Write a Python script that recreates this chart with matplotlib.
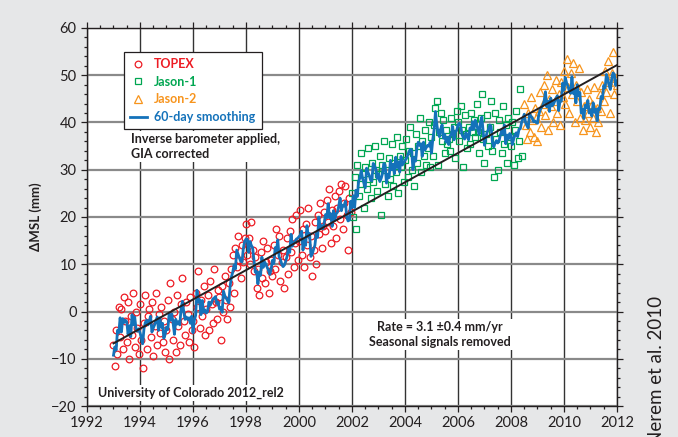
import numpy as np
import matplotlib
matplotlib.use("Agg")
import matplotlib.pyplot as plt
from matplotlib.ticker import MultipleLocator

plt.rcParams["font.family"] = ["Lato", "DejaVu Sans"]

BG = "#e6e7e8"
INK = "#231f20"
RED = "#ed1c24"
GREEN = "#00a651"
ORANGE = "#f7941d"
BLUE = "#1472ba"

# one altimeter value every CYCLE_STEP years, per mission
CYCLE_STEP = 0.05

topex_start = 1993.0
topex_mm = [
    # 1993
    -7.0, -11.5, -4.0, -9.0, 1.0, -5.5, 0.5, -8.0, 3.0, -2.0,
    -6.5, 2.0, -10.0, -1.0, -5.0, 4.0, -7.5, 0.0, -3.5, -9.0,
    # 1994
    1.5, -6.0, -12.0, -2.5, 3.5, -8.0, -1.0, 0.5, -5.5, 2.0,
    -9.5, -3.0, 4.0, -7.0, -0.5, -4.5, 1.0, -6.5, -2.0, -8.5,
    # 1995
    -4.0, 2.5, -10.0, 6.0, -1.5, -6.0, 0.0, -8.5, 3.5, -3.0,
    -7.0, 1.5, 7.0, -2.0, -5.0, 2.0, -0.5, -6.5, 3.0, -4.0,
    # 1996
    -2.0, -7.5, 4.0, 1.0, 8.5, -3.5, 2.5, -1.0, 5.5, -5.0,
    0.5, 3.5, -4.0, 6.5, 1.5, -2.5, 9.0, 2.0, -1.5, 4.5,
    # 1997
    3.0, -6.0, 5.5, 0.0, 7.5, 2.5, -1.5, 6.0, 1.0, 9.0,
    12.0, 4.0, 13.5, 9.5, 16.0, 11.0, 7.0, 14.0, 10.5, 15.5,
    # 1998
    18.5, 12.0, 15.5, 10.0, 19.0, 13.0, 8.5, 11.5, 5.0, 9.0,
    3.5, 12.5, 7.0, 15.0, 6.0, 10.5, 13.5, 4.0, 8.5, 11.0,
    # 1999
    7.5, 14.0, 9.0, 17.5, 12.0, 16.0, 6.5, 10.5, 13.0, 5.0,
    11.5, 15.5, 8.0, 17.0, 12.5, 19.5, 9.5, 14.5, 20.5, 11.0,
    # 2000
    15.0, 21.5, 12.0, 17.5, 9.5, 18.5, 14.0, 22.0, 11.5, 16.0,
    7.5, 13.0, 19.0, 10.0, 20.5, 16.5, 23.0, 13.5, 18.0, 21.0,
    # 2001
    17.0, 23.5, 19.0, 26.0, 14.5, 21.5, 18.0, 24.5, 15.5, 22.0,
    25.5, 19.5, 27.0, 17.5, 23.0, 26.5, 20.5, 13.0, 24.0, 21.0,
]

jason1_start = 2002.0
jason1_mm = [
    # 2002
    25.0, 20.0, 28.5, 17.5, 31.0, 24.5, 27.0, 33.5, 29.0, 22.0,
    30.5, 26.0, 34.5, 28.0, 24.0, 31.5, 27.5, 35.0, 30.0, 25.5,
    # 2003
    29.0, 33.0, 20.5, 31.0, 36.0, 27.0, 30.0, 24.5, 32.5, 28.0,
    35.5, 26.5, 31.5, 29.5, 37.0, 25.0, 33.0, 30.5, 35.0, 27.5,
    # 2004
    32.0, 36.5, 28.5, 34.0, 39.0, 30.0, 33.5, 26.5, 37.5, 31.5,
    35.0, 41.0, 29.5, 36.0, 33.0, 38.5, 31.0, 34.5, 40.0, 30.5,
    # 2005
    37.0, 33.0, 39.5, 43.0, 44.5, 31.0, 38.0, 42.0, 36.0, 40.5,
    33.5, 38.5, 35.5, 36.5, 34.0, 41.0, 37.5, 39.0, 32.5, 42.5,
    # 2006
    40.0, 36.0, 43.5, 38.5, 30.5, 41.5, 37.5, 34.5, 39.0, 35.5,
    42.0, 38.0, 40.5, 37.0, 44.0, 38.0, 33.5, 41.0, 46.0, 36.5,
    # 2007
    31.5, 37.5, 41.5, 35.0, 39.0, 44.5, 34.0, 28.5, 42.0, 36.5,
    30.0, 40.5, 38.0, 33.5, 43.5, 35.5, 39.5, 31.5, 41.0, 37.0,
    # 2008
    35.0, 40.0, 31.0, 38.5, 42.5, 32.5, 36.0, 47.0, 33.0,
]

jason2_start = 2008.5
jason2_mm = [
    # 2008.5
    44.0, 39.5, 36.5, 42.0, 38.0, 45.5, 40.5, 37.0, 43.0, 41.0,
    # 2009
    36.0, 42.5, 46.5, 39.0, 44.0, 48.0, 41.5, 50.0, 38.5, 45.0,
    43.5, 47.0, 40.0, 44.5, 49.0, 42.0, 46.0, 39.5, 48.5, 45.5,
    # 2010
    51.0, 44.0, 53.5, 47.5, 42.0, 50.5, 46.0, 52.5, 40.0, 48.0,
    44.5, 51.5, 41.0, 46.5, 38.5, 43.5, 40.5, 47.0, 42.0, 45.0,
    # 2011
    39.0, 44.0, 41.0, 47.5, 38.0, 43.0, 40.0, 46.0, 42.5, 48.0,
    44.5, 51.0, 46.5, 53.0, 48.5, 42.0, 50.5, 55.0, 46.0, 49.5,
    # 2012
    48.0,
]

RATE = 3.1
RATE_ERR = 0.4
TREND_ANCHOR = (2002.5, 22.7)
TREND_SPAN = (1993.0, 2012.0)


def cycle_times(start, values):
    return start + CYCLE_STEP * np.arange(len(values))


def smooth_60day(t, v, half=30 / 365.25):
    return np.array([v[np.abs(t - ti) <= half].mean() for ti in t])


t1 = cycle_times(topex_start, topex_mm)
t2 = cycle_times(jason1_start, jason1_mm)
t3 = cycle_times(jason2_start, jason2_mm)

t_all = np.concatenate([t1, t2, t3])
v_all = np.concatenate([topex_mm, jason1_mm, jason2_mm]).astype(float)
order = np.argsort(t_all)
t_all, v_all = t_all[order], v_all[order]
smooth = smooth_60day(t_all, v_all)

trend_t = np.array(TREND_SPAN)
trend_v = TREND_ANCHOR[1] + RATE * (trend_t - TREND_ANCHOR[0])

fig = plt.figure(figsize=(6.78, 4.37), dpi=100)
fig.patch.set_facecolor(BG)
ax = fig.add_axes([87 / 678, 31 / 437, 530 / 678, 378 / 437])
ax.set_facecolor("white")

h1, = ax.plot(t1, topex_mm, "o", mfc="none", mec=RED, ms=4.8, mew=0.9, label="TOPEX")
h2, = ax.plot(t2, jason1_mm, "s", mfc="none", mec=GREEN, ms=4.4, mew=0.9, label="Jason-1")
h3, = ax.plot(t3, jason2_mm, "^", mfc="none", mec=ORANGE, ms=5.2, mew=0.9, label="Jason-2")
h4, = ax.plot(t_all, smooth, color=BLUE, lw=2.0, label="60-day smoothing")
ax.plot(trend_t, trend_v, color=INK, lw=1.4)

ax.set_xlim(1992, 2012)
ax.set_ylim(-20, 60)
ax.xaxis.set_major_locator(MultipleLocator(2))
ax.xaxis.set_minor_locator(MultipleLocator(0.5))
ax.yaxis.set_major_locator(MultipleLocator(10))
ax.yaxis.set_minor_locator(MultipleLocator(2))
ax.set_xticklabels([f"{int(x)}" for x in ax.get_xticks()])
ax.tick_params(which="both", direction="out", top=True, right=True,
               colors=INK, labelsize=10.5, width=0.9)
ax.tick_params(which="major", length=4)
ax.tick_params(which="minor", length=2.5)
for s in ax.spines.values():
    s.set_color(INK)
    s.set_linewidth(1.0)

ax.set_axisbelow(True)
ax.xaxis.grid(True, color="#333333", lw=1.0)
ax.yaxis.grid(True, color="#8a8a8a", lw=1.6)

ax.set_ylabel("ΔMSL (mm)", fontweight="bold", fontsize=9.5, color=INK)
ax.yaxis.set_label_coords(-0.085, 0.5)

leg = ax.legend(handles=[h1, h2, h3, h4], loc="upper left",
                bbox_to_anchor=(0.07, 0.937), borderaxespad=0,
                fancybox=False, framealpha=1, edgecolor=INK,
                prop={"weight": "bold", "size": 9}, handlelength=1.3,
                handletextpad=0.6, labelspacing=0.45, borderpad=0.5)
leg.get_frame().set_linewidth(0.9)
for txt, c in zip(leg.get_texts(), [RED, GREEN, ORANGE, BLUE]):
    txt.set_color(c)

box = dict(facecolor="white", edgecolor="none", pad=1.5)
ax.text(0.083, 0.722, "Inverse barometer applied,\nGIA corrected",
        transform=ax.transAxes, ha="left", va="top", fontsize=9,
        fontweight="bold", color=INK, linespacing=1.3, bbox=box)
ax.text(0.666, 0.19, f"Rate = {RATE} ±{RATE_ERR} mm/yr\nSeasonal signals removed",
        transform=ax.transAxes, ha="center", va="center", fontsize=9,
        fontweight="bold", color=INK, linespacing=1.3, bbox=box)
ax.text(0.021, 0.034, "University of Colorado 2012_rel2",
        transform=ax.transAxes, ha="left", va="center", fontsize=9,
        fontweight="bold", color=INK, bbox=box)

# source credit along the right edge, running down to the bottom
fig.text(657 / 678, (437 - 296) / 437, "Nerem et al. 2010", rotation=90,
         ha="center", va="top", fontsize=13.5, color=INK)

fig.savefig("out.png", dpi=100, facecolor=BG)
